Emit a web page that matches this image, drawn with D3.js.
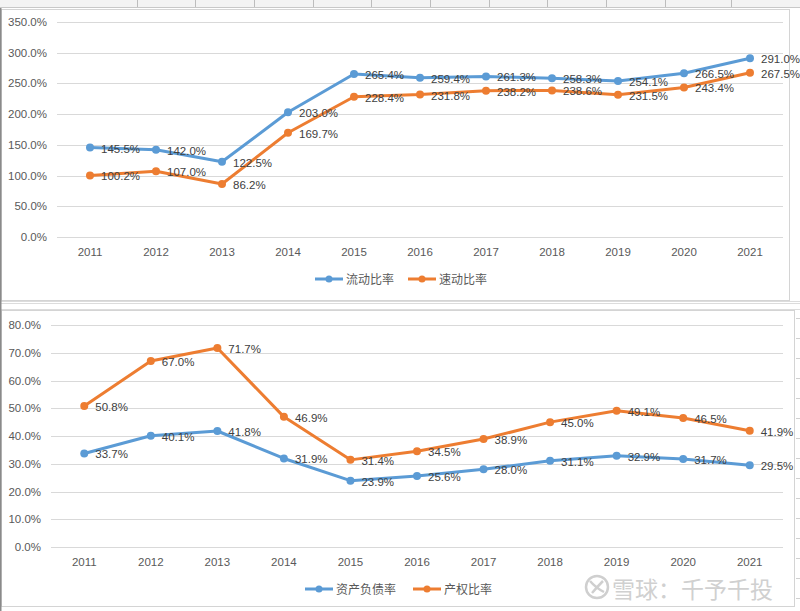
<!DOCTYPE html>
<html><head><meta charset="utf-8">
<script src="https://cdn.jsdelivr.net/npm/d3@7/dist/d3.min.js"></script>
<style>
body{margin:0;background:#fff;}
svg{display:block;font-family:"Liberation Sans","DejaVu Sans",sans-serif;}
</style></head>
<body><svg id="c" width="800" height="611"></svg>
<script>
const years = ["2011","2012","2013","2014","2015","2016","2017","2018","2019","2020","2021"];
const currentRatio = [145.5,142.0,122.5,203.0,265.4,259.4,261.3,258.3,254.1,266.5,291.0];
const quickRatio = [100.2,107.0,86.2,169.7,228.4,231.8,238.2,238.6,231.5,243.4,267.5];
const debtRatio = [33.7,40.1,41.8,31.9,23.9,25.6,28.0,31.1,32.9,31.7,29.5];
const equityRatio = [50.8,67.0,71.7,46.9,31.4,34.5,38.9,45.0,49.1,46.5,41.9];
const topTicks = [0,50,100,150,200,250,300,350];
const bottomTicks = [0,10,20,30,40,50,60,70,80];
const topNames = ["流动比率","速动比率"];
const bottomNames = ["资产负债率","产权比率"];
const colors = ["#5B9BD5","#ED7D31"];

const svg = d3.select("#c");
const cjk = '"Noto Sans CJK SC","Noto Sans",sans-serif';

// spreadsheet background bits
svg.append("rect").attr("x",0).attr("y",0).attr("width",800).attr("height",8).attr("fill","#f3f3f3");
svg.append("line").attr("x1",0).attr("x2",800).attr("y1",7.5).attr("y2",7.5).attr("stroke","#c8c8c8");
[137,195,254,313,371,430,489,547,606,665,731].forEach(x=>{
  svg.append("line").attr("x1",x+0.5).attr("x2",x+0.5).attr("y1",0).attr("y2",7).attr("stroke","#bdbdbd");
});
// gap between panels
[301.5,303.5,309.5].forEach(y=>svg.append("line").attr("x1",0).attr("x2",800).attr("y1",y).attr("y2",y).attr("stroke","#dcdcdc"));
// right side grid near bottom panel
for(let y=318;y<611;y+=20){svg.append("line").attr("x1",796).attr("x2",800).attr("y1",y+0.5).attr("y2",y+0.5).attr("stroke","#d0d0d0");}

// panels
svg.append("rect").attr("x",1.5).attr("y",9.5).attr("width",788).attr("height",291).attr("fill","#fff").attr("stroke","#d4d4d4");
svg.append("rect").attr("x",1.5).attr("y",310.5).attr("width",793).attr("height",296).attr("fill","#fff").attr("stroke","#d4d4d4");
svg.append("line").attr("x1",0.5).attr("x2",0.5).attr("y1",8).attr("y2",611).attr("stroke","#8a8a8a").attr("stroke-width",2);

function drawChart(cfg){
  const g = svg.append("g");
  const x = d3.scaleBand().domain(years).range([cfg.x0,cfg.x1]).padding(0);
  const y = d3.scaleLinear().domain(cfg.domain).range([cfg.yb,cfg.yt]);
  // gridlines
  g.selectAll("line.grid").data(cfg.ticks).join("line")
    .attr("x1",cfg.x0).attr("x2",cfg.x1)
    .attr("y1",d=>Math.round(y(d))+0.5).attr("y2",d=>Math.round(y(d))+0.5)
    .attr("stroke","#d9d9d9").attr("stroke-width",1);
  // y tick labels
  g.selectAll("text.yt").data(cfg.ticks).join("text")
    .attr("x",cfg.x0-10).attr("y",d=>y(d)+4)
    .attr("text-anchor","end").attr("font-size",11.5).attr("fill","#595959")
    .text(d=>d.toFixed(1)+"%");
  // x tick labels
  g.selectAll("text.xt").data(years).join("text")
    .attr("x",d=>x(d)+x.bandwidth()/2).attr("y",cfg.yb+19)
    .attr("text-anchor","middle").attr("font-size",11.5).attr("fill","#595959")
    .text(d=>d);
  const line = d3.line().x((d,i)=>x(years[i])+x.bandwidth()/2).y(d=>y(d));
  cfg.series.forEach((s,k)=>{
    g.append("path").datum(s).attr("d",line).attr("fill","none")
      .attr("stroke",colors[k]).attr("stroke-width",3).attr("stroke-linejoin","round").attr("stroke-linecap","round");
    g.selectAll(null).data(s).join("circle")
      .attr("cx",(d,i)=>x(years[i])+x.bandwidth()/2).attr("cy",d=>y(d)).attr("r",4)
      .attr("fill",colors[k]);
  });
  cfg.series.forEach((s,k)=>{
    g.selectAll(null).data(s).join("text")
      .attr("x",(d,i)=>x(years[i])+x.bandwidth()/2+11).attr("y",d=>y(d)+5)
      .attr("font-size",11.5).attr("fill","#404040")
      .text(d=>d.toFixed(1)+"%");
  });
  // legend
  cfg.names.forEach((n,k)=>{
    const lx = cfg.legend[k];
    g.append("line").attr("x1",lx).attr("x2",lx+28).attr("y1",cfg.ly).attr("y2",cfg.ly)
      .attr("stroke",colors[k]).attr("stroke-width",3);
    g.append("circle").attr("cx",lx+14).attr("cy",cfg.ly).attr("r",3.5).attr("fill",colors[k]);
    g.append("text").attr("x",lx+31).attr("y",cfg.ly+4.5).attr("font-size",12)
      .attr("font-family",cjk).attr("fill","#595959").text(n);
  });
}

drawChart({x0:57,x1:783,yb:237,yt:22,domain:[0,350],ticks:topTicks,
  series:[currentRatio,quickRatio],names:topNames,legend:[315,408],ly:279});
drawChart({x0:51,x1:783,yb:547,yt:325,domain:[0,80],ticks:bottomTicks,
  series:[debtRatio,equityRatio],names:bottomNames,legend:[305,413],ly:589});

// watermark
const wm = svg.append("g");
wm.append("circle").attr("cx",597).attr("cy",587).attr("r",11).attr("fill","none").attr("stroke","#cfcfcf").attr("stroke-width",2.5);
wm.append("path").attr("d","M590,581 Q596,588 604,592 M592,593 Q598,586 603,581").attr("fill","none").attr("stroke","#cfcfcf").attr("stroke-width",2.5);
wm.append("text").attr("x",612).attr("y",598).attr("font-size",23).attr("font-family",cjk)
  .attr("fill","#d0d0d0").text("雪球：千予千投");
</script></body></html>
